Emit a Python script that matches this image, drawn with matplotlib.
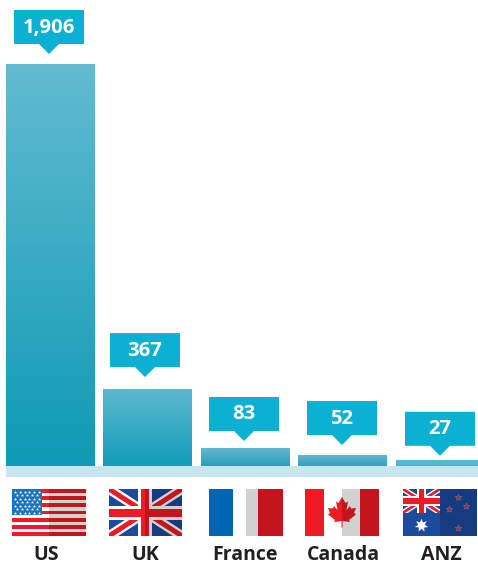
import numpy as np
import matplotlib
matplotlib.use("Agg")
import matplotlib.pyplot as plt
from matplotlib.patches import Rectangle, Polygon
from matplotlib.colors import LinearSegmentedColormap

# Data
regions = ["US", "UK", "France", "Canada", "ANZ"]
values = [1906, 367, 83, 52, 27]
value_labels = ["1,906", "367", "83", "52", "27"]

# Styling
W, H = 478, 562
BASE_Y = 466
UNITS_TOP = 1906 * BASE_Y / 402
STEP = 97.5
FIRST_CENTER = 50
BAR_WIDTH = 88.5 / STEP
top_colors = ["#62bbd1", "#5fb9d1", "#5fb9d1", "#5fb9d1", "#5db9d0"]
bottom_colors = ["#0e9ab5", "#129db7", "#2a9fb8", "#2fa2ba", "#55b4cc"]
callout_centers = [49, 145, 244, 342, 440]
callout_gaps = [10, 11.5, 7.5, 10, 4.5]
flag_lefts = [12, 109, 209, 305, 403]
label_centers = [46, 145, 245, 343, 441]
CALLOUT = "#0bb1d2"
FONT = "Open Sans"

fig = plt.figure(figsize=(W / 100, H / 100), dpi=100, facecolor="white")

# Bars live on a real value axis whose zero sits on the band's top edge
ax = fig.add_axes([0, (H - BASE_Y) / H, 1, BASE_Y / H])
ax.set_xlim(-FIRST_CENTER / STEP, (W - FIRST_CENTER) / STEP)
ax.set_ylim(0, UNITS_TOP)
ax.axis("off")
bars = ax.bar(range(len(values)), values, width=BAR_WIDTH, facecolor="none", edgecolor="none")
for bar, c0, c1 in zip(bars, top_colors, bottom_colors):
    cmap = LinearSegmentedColormap.from_list("bar", [c0, c1])
    im = ax.imshow(np.linspace(0, 1, 128)[:, None], cmap=cmap, aspect="auto",
                   extent=(bar.get_x(), bar.get_x() + bar.get_width(), 0, bar.get_height()))
    im.set_clip_path(bar)
ax.set_xlim(-FIRST_CENTER / STEP, (W - FIRST_CENTER) / STEP)
ax.set_ylim(0, UNITS_TOP)

# Overlay in pixel units for the band, callouts and flags
ov = fig.add_axes([0, 0, 1, 1])
ov.set_xlim(0, W)
ov.set_ylim(H, 0)
ov.axis("off")
ov.patch.set_alpha(0)

ov.add_patch(Rectangle((6, BASE_Y), W - 6, 11, fc="#c9e6ef", ec="none"))


def rect(x0, y0, x1, y1, color, z=3, alpha=None):
    return ov.add_patch(Rectangle((x0, y0), x1 - x0, y1 - y0, fc=color, ec="none", zorder=z, alpha=alpha))


def callout(cx, tip, text):
    x0, x1 = cx - 35, cx + 35
    y1 = tip - 10
    y0 = y1 - 34
    ov.add_patch(Polygon([(x0, y0), (x1, y0), (x1, y1), (cx + 10, y1), (cx, tip), (cx - 10, y1), (x0, y1)],
                         closed=True, fc=CALLOUT, ec="none", zorder=4))
    ov.text(cx, (y0 + y1) / 2 + 0.5, text, color="white", family=FONT, weight="bold",
            fontsize=14.6, ha="center", va="center", zorder=5)


for val, txt, cx, gap in zip(values, value_labels, callout_centers, callout_gaps):
    top_px = BASE_Y - val * BASE_Y / UNITS_TOP
    callout(cx, top_px - gap, txt)

FLAG_W, FLAG_H, FLAG_Y = 74, 47, 489
RED = "#ed1c24"
BLUE = "#1c4a9c"


def shade(x, w=FLAG_W):
    # Right half of each flag carries a darker fold
    rect(x + w / 2, FLAG_Y, x + w, FLAG_Y + FLAG_H, "black", z=8, alpha=0.18)


def union_jack(x0, y0, x1, y1, z=3, cross=4.0, border=7.0, diag_white=7.0, diag_red=3.6):
    clip = rect(x0, y0, x1, y1, BLUE, z=z)
    cx, cy = (x0 + x1) / 2, (y0 + y1) / 2
    for p, q in [((x0, y0), (x1, y1)), ((x0, y1), (x1, y0))]:
        ln, = ov.plot(*zip(p, q), color="white", lw=diag_white, solid_capstyle="butt", zorder=z + .1)
        ln.set_clip_path(clip)
        ln, = ov.plot(*zip(p, q), color=RED, lw=diag_red, solid_capstyle="butt", zorder=z + .2)
        ln.set_clip_path(clip)
    rect(cx - border, y0, cx + border, y1, "white", z + .3)
    rect(x0, cy - border, x1, cy + border, "white", z + .3)
    rect(cx - cross, y0, cx + cross, y1, RED, z + .4)
    rect(x0, cy - cross, x1, cy + cross, RED, z + .4)


# US
x = flag_lefts[0]
rect(x, FLAG_Y, x + FLAG_W, FLAG_Y + FLAG_H, "white")
sh = FLAG_H / 13
for i in range(0, 13, 2):
    rect(x, FLAG_Y + i * sh, x + FLAG_W, FLAG_Y + (i + 1) * sh, RED, 3.1)
rect(x, FLAG_Y, x + 30, FLAG_Y + 26, "#1b75bb", 3.2)
sx, sy = [], []
for r in range(7):
    n = 6 if r % 2 == 0 else 5
    for c in range(n):
        sx.append(x + 2.8 + c * 4.9 + (0 if r % 2 == 0 else 2.45))
        sy.append(FLAG_Y + 2.5 + r * 3.5)
ov.scatter(sx, sy, s=6, c="white", marker="*", linewidths=0, zorder=3.3)
shade(x)

# UK
x = flag_lefts[1]
union_jack(x, FLAG_Y, x + 73, FLAG_Y + FLAG_H)
shade(x, 73)

# France
x = flag_lefts[2]
rect(x, FLAG_Y, x + 24, FLAG_Y + FLAG_H, "#0066b3")
rect(x + 24, FLAG_Y, x + 49, FLAG_Y + FLAG_H, "white")
rect(x + 49, FLAG_Y, x + 74, FLAG_Y + FLAG_H, RED)
shade(x)

# Canada
x = flag_lefts[3]
rect(x, FLAG_Y, x + 19, FLAG_Y + FLAG_H, RED)
rect(x + 19, FLAG_Y, x + 55, FLAG_Y + FLAG_H, "white")
rect(x + 55, FLAG_Y, x + 74, FLAG_Y + FLAG_H, RED)
leaf = np.array([(0, -15), (-3.5, -9), (-6, -10.5), (-4.5, -2), (-8, -6), (-9, -3.5), (-14, -4),
                 (-12, 1), (-14, 2.5), (-7, 8), (-8, 10), (-0.5, 9), (-0.5, 15.5), (0.5, 15.5),
                 (0.5, 9), (8, 10), (7, 8), (14, 2.5), (12, 1), (14, -4), (9, -3.5), (8, -6),
                 (4.5, -2), (6, -10.5), (3.5, -9)])
ov.add_patch(Polygon(leaf + [x + 37, FLAG_Y + 23], closed=True, fc=RED, ec="none", zorder=4))
shade(x)

# Australia and New Zealand share one panel
x = flag_lefts[4]
rect(x, FLAG_Y, x + 37, FLAG_Y + FLAG_H, BLUE)
rect(x + 37, FLAG_Y, x + 74, FLAG_Y + FLAG_H, BLUE)
union_jack(x, FLAG_Y, x + 37, FLAG_Y + 23.7, cross=2.8, border=4.8, diag_white=4.0, diag_red=2.0)
ov.scatter([x + 18.5], [FLAG_Y + 35.5], s=95, c="white", marker=(7, 1, 0), linewidths=0, zorder=5)
nz_x = [x + 55, x + 63, x + 46, x + 55]
nz_y = [FLAG_Y + 8, FLAG_Y + 17, FLAG_Y + 20, FLAG_Y + 39]
ov.scatter(nz_x, nz_y, s=24, c=RED, marker="*", edgecolors="#8d93b8", linewidths=0.4, zorder=5)
shade(x)

# Region names
for name, cx in zip(regions, label_centers):
    ov.text(cx, 560.5, name, color="#231f20", family=FONT, weight="bold", fontsize=14,
            ha="center", va="baseline", zorder=6)

fig.savefig("out.png", dpi=100, facecolor="white")
